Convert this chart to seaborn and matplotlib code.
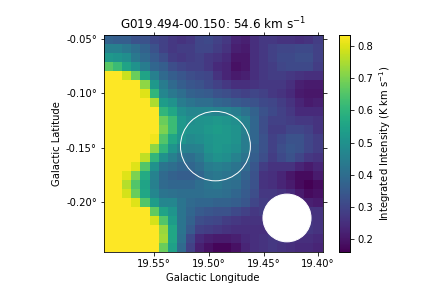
import numpy as np
import matplotlib
matplotlib.use('Agg')
import matplotlib.pyplot as plt
from matplotlib.patches import Circle
import seaborn as sns

# integrated intensity map, top row first, longitude decreasing to the right
intensity = np.array([
    [.37,.36,.36,.33,.33,.30,.29,.27,.26,.27,.30,.31,.29,.27,.23,.22,.25,.27,.27,.26,.26,.25,.26,.28],
    [.45,.45,.43,.40,.37,.33,.29,.27,.28,.28,.30,.30,.28,.26,.22,.21,.25,.27,.29,.30,.30,.31,.31,.29],
    [.52,.51,.49,.43,.39,.35,.32,.28,.27,.28,.29,.27,.26,.24,.20,.20,.25,.27,.29,.31,.31,.32,.32,.29],
    [.66,.62,.55,.50,.44,.38,.36,.32,.30,.29,.29,.27,.24,.23,.19,.20,.25,.27,.28,.30,.31,.31,.31,.28],
    [.90,.90,.78,.68,.55,.45,.39,.36,.34,.32,.31,.30,.26,.23,.21,.22,.25,.27,.28,.28,.27,.26,.25,.25],
    [.90,.90,.90,.85,.72,.52,.44,.39,.36,.34,.33,.31,.29,.27,.25,.25,.26,.27,.27,.27,.25,.22,.21,.21],
    [.90,.90,.90,.90,.80,.60,.47,.43,.40,.37,.36,.35,.33,.32,.30,.29,.30,.29,.27,.26,.24,.21,.20,.20],
    [.90,.90,.90,.90,.90,.75,.53,.50,.44,.42,.40,.40,.38,.37,.35,.34,.33,.31,.30,.28,.26,.23,.21,.22],
    [.90,.90,.90,.90,.90,.84,.60,.56,.49,.47,.47,.47,.46,.46,.44,.41,.37,.33,.31,.29,.27,.24,.24,.24],
    [.90,.90,.90,.90,.90,.88,.68,.62,.52,.49,.50,.51,.52,.51,.49,.45,.38,.32,.29,.29,.28,.27,.27,.26],
    [.90,.90,.90,.90,.90,.88,.70,.62,.52,.50,.50,.52,.53,.52,.50,.45,.38,.32,.28,.28,.30,.30,.29,.26],
    [.90,.90,.90,.90,.90,.82,.65,.56,.51,.48,.49,.51,.52,.52,.50,.44,.38,.33,.29,.31,.33,.33,.30,.28],
    [.90,.90,.90,.90,.90,.72,.60,.51,.46,.45,.46,.50,.52,.51,.49,.44,.37,.33,.29,.32,.34,.33,.30,.28],
    [.90,.90,.90,.90,.77,.60,.50,.45,.41,.40,.43,.48,.50,.49,.46,.42,.36,.32,.28,.31,.33,.30,.27,.26],
    [.90,.90,.90,.80,.65,.50,.42,.40,.38,.38,.40,.44,.45,.44,.42,.39,.34,.28,.26,.26,.26,.23,.21,.23],
    [.90,.90,.80,.70,.57,.46,.39,.37,.36,.36,.38,.42,.43,.42,.41,.37,.33,.26,.25,.23,.20,.18,.18,.21],
    [.90,.90,.76,.65,.55,.45,.39,.38,.38,.38,.40,.42,.43,.41,.40,.36,.33,.26,.25,.23,.21,.18,.16,.18],
    [.90,.90,.79,.68,.56,.47,.42,.41,.40,.40,.40,.41,.41,.40,.38,.35,.32,.27,.27,.26,.24,.21,.18,.19],
    [.90,.90,.90,.80,.65,.53,.47,.47,.42,.39,.38,.38,.37,.37,.36,.34,.30,.28,.27,.26,.25,.23,.22,.21],
    [.90,.90,.90,.90,.90,.67,.55,.51,.42,.38,.35,.34,.33,.33,.31,.29,.27,.28,.27,.28,.28,.27,.26,.26],
    [.90,.90,.90,.90,.90,.79,.65,.53,.42,.37,.32,.31,.30,.28,.27,.26,.26,.26,.27,.28,.28,.28,.27,.26],
    [.90,.90,.90,.90,.90,.85,.73,.56,.42,.35,.29,.28,.27,.26,.25,.25,.25,.25,.27,.28,.28,.28,.27,.26],
    [.90,.90,.90,.90,.90,.90,.74,.56,.41,.31,.24,.22,.21,.21,.22,.24,.25,.26,.27,.27,.26,.25,.25,.24],
    [.90,.90,.90,.90,.90,.84,.68,.54,.39,.29,.22,.19,.17,.17,.19,.23,.25,.26,.27,.26,.25,.24,.24,.23],
])

lon_ticks = [19.55, 19.50, 19.45, 19.40]
lat_ticks = [-0.05, -0.10, -0.15, -0.20]
lon_range = (19.596, 19.396)
lat_range = (-0.0463, -0.2459)
cbar_ticks = [0.2, 0.3, 0.4, 0.5, 0.6, 0.7, 0.8]

source_lon = 19.494
source_lat = -0.1485
aperture_radius = 0.032
beam_lon = 19.4285
beam_lat = -0.2146
beam_radius = 0.022


def lon_to_cell(lon):
    return (lon_range[0] - lon) / (lon_range[0] - lon_range[1]) * intensity.shape[1]


def lat_to_cell(lat):
    return (lat_range[0] - lat) / (lat_range[0] - lat_range[1]) * intensity.shape[0]


fig = plt.figure(figsize=(6, 4), dpi=72)
ax = fig.add_axes([104 / 432, 36 / 288, 218.5 / 432, 217 / 288])
cax = fig.add_axes([339 / 432, 36 / 288, 11 / 432, 217 / 288])

sns.heatmap(intensity, ax=ax, cbar_ax=cax, cmap='viridis', vmin=0.16, vmax=0.834,
            xticklabels=False, yticklabels=False)

cell = intensity.shape[1] / (lon_range[0] - lon_range[1])
ax.add_patch(Circle((lon_to_cell(source_lon), lat_to_cell(source_lat)), aperture_radius * cell,
                    fill=False, edgecolor='white', linewidth=1))
ax.add_patch(Circle((lon_to_cell(beam_lon), lat_to_cell(beam_lat)), beam_radius * cell,
                    facecolor='white', edgecolor='white'))

ax.set_xticks([lon_to_cell(v) for v in lon_ticks])
ax.set_xticklabels([f'{v:.2f}°' for v in lon_ticks], rotation=0)
ax.set_yticks([lat_to_cell(v) for v in lat_ticks])
ax.set_yticklabels([f'{v:.2f}°' for v in lat_ticks], rotation=0)
ax.tick_params(top=True, right=True, length=3.5, width=0.8)
for spine in ax.spines.values():
    spine.set_visible(True)
    spine.set_linewidth(0.8)

ax.set_xlabel('Galactic Longitude')
ax.set_ylabel('Galactic Latitude')
ax.set_title('G019.494-00.150: 54.6 km s$^{-1}$')

cax.set_yticks(cbar_ticks)
cax.set_yticklabels([f'{v:.1f}' for v in cbar_ticks])
cax.tick_params(length=3.5, width=0.8)
cax.set_ylabel('Integrated Intensity (K km s$^{-1}$)')
for spine in cax.spines.values():
    spine.set_visible(True)
    spine.set_linewidth(0.8)

fig.savefig('out.png', dpi=72)
